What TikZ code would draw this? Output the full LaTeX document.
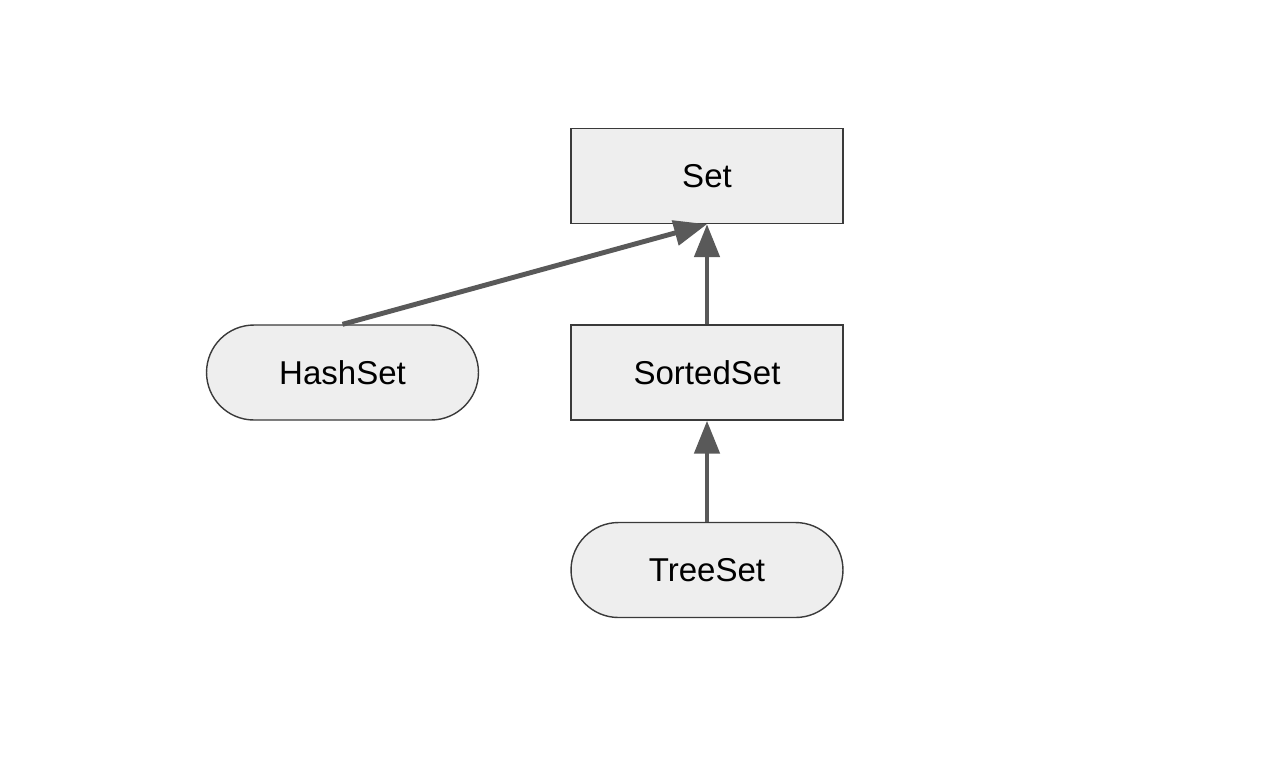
\documentclass[tikz,border=0pt]{standalone}
\usepackage{fontspec}
\setmainfont{Liberation Sans}
\usetikzlibrary{arrows.meta}
\definecolor{boxfill}{HTML}{EEEEEE}
\definecolor{boxline}{HTML}{3A3A3A}
\definecolor{arrowcol}{HTML}{595959}
\begin{document}
\begin{tikzpicture}[x=0.02cm,y=-0.02cm,
  base/.style={draw=boxline,fill=boxfill,line width=0.8pt,minimum width=5.44cm,minimum height=1.9cm,inner sep=0pt,font=\fontsize{18.8}{22}\selectfont},
  rectbox/.style={base},
  pillbox/.style={base,rounded corners=0.95cm},
  arr/.style={draw=arrowcol,line width=2.8pt,-{Triangle[length=0.66cm,width=0.5cm]}}]
\useasboundingbox (0,0) rectangle (1280,765);
\node[rectbox] (set) at (707,176) {Set};
\node[rectbox] (sorted) at (707,372.5) {SortedSet};
\node[pillbox] (hash) at (342.5,372.5) {HashSet};
\node[pillbox] (tree) at (707,570) {TreeSet};
\draw[arr] (hash.north) -- (set.south);
\draw[arr] (sorted.north) -- (set.south);
\draw[arr] (tree.north) -- (sorted.south);
\end{tikzpicture}
\end{document}
